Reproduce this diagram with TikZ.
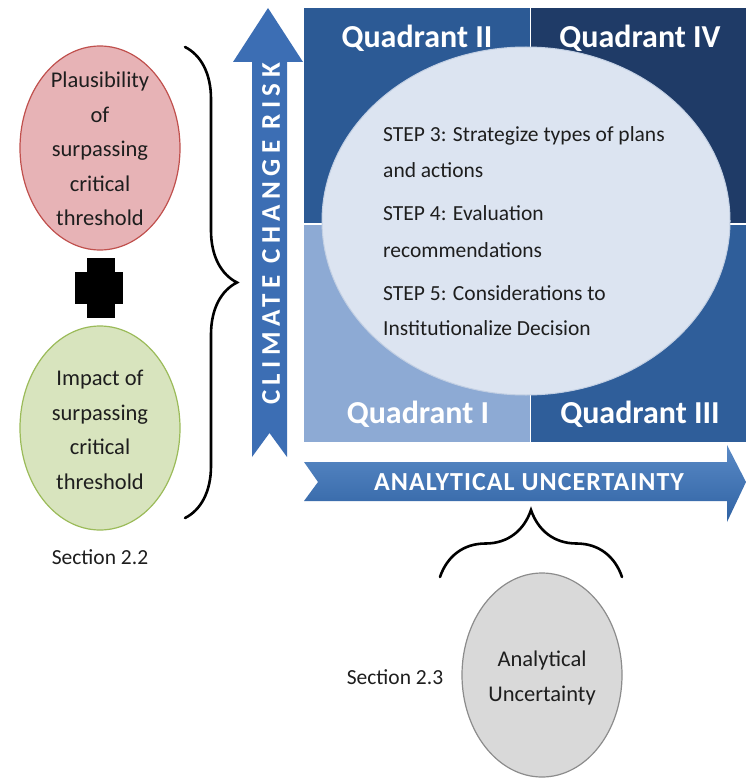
\documentclass[tikz,border=0pt]{standalone}
\usepackage{fontspec}
\setmainfont{Carlito}
\newfontfamily\vspacedfont[LetterSpace=20]{Carlito}
\newfontfamily\hspacedfont[LetterSpace=4]{Carlito}
\usetikzlibrary{decorations.pathreplacing,shapes.geometric}
\definecolor{qtwo}{HTML}{2C5A95}
\definecolor{qfour}{HTML}{1F3B67}
\definecolor{qone}{HTML}{8DAAD4}
\definecolor{qthree}{HTML}{2F5E9A}
\definecolor{ellfill}{HTML}{DCE4F1}
\definecolor{arrowblue}{HTML}{3C6EB4}
\definecolor{arrowlight}{HTML}{5A8AC6}
\definecolor{arrowdark}{HTML}{2F62A3}
\definecolor{redfill}{HTML}{E7B3B6}
\definecolor{redline}{HTML}{C0504D}
\definecolor{greenfill}{HTML}{D8E4BE}
\definecolor{greenline}{HTML}{9BBB59}
\definecolor{grayfill}{HTML}{D9D9D9}
\definecolor{grayline}{HTML}{8C8C8C}
\definecolor{textgray}{HTML}{1E1E1E}
\tikzset{
  bubble/.style={ellipse, minimum width=160pt, minimum height=204pt, line width=1.2pt, inner sep=0pt},
  bubbletext/.style={align=center, font=\fontsize{22.5}{34.5}\selectfont, text=textgray},
  quadlabel/.style={text=white, font=\bfseries\fontsize{32}{35}\selectfont},
  steptext/.style={anchor=base west, text=textgray, font=\fontsize{21.5}{24}\selectfont, inner sep=0pt},
  seclabel/.style={text=textgray, font=\fontsize{21.5}{24}\selectfont},
  varrowtext/.style={text=white, font=\vspacedfont\bfseries\fontsize{27}{29}\selectfont},
  harrowtext/.style={text=white, font=\hspacedfont\bfseries\fontsize{26}{28}\selectfont},
  bracestyle/.style={decorate, line width=2.6pt, line cap=round}
}
\begin{document}
\begin{tikzpicture}[x=1pt,y=-1pt]
\useasboundingbox (0,0) rectangle (746,778);
\clip (0,0) rectangle (746,778);
\fill[white] (0,0) rectangle (746,778);

% quadrants
\fill[qtwo] (304,8) rectangle (529.5,223);
\fill[qfour] (531,8) rectangle (746,223);
\fill[qone] (304,225) rectangle (529.5,442);
\fill[qthree] (531,225) rectangle (746,442);

% central ellipse
\node[ellipse, fill=ellfill, draw=ellfill!85!qtwo, line width=1pt, minimum width=408pt, minimum height=348pt] (center) at (526,221) {};

\node[quadlabel] (q2) at (417,38) {Quadrant II};
\node[quadlabel] (q4) at (640,38) {Quadrant IV};
\node[quadlabel] (q1) at (418,414) {Quadrant I};
\node[quadlabel] (q3) at (640,414) {Quadrant III};

\node[steptext] (s3a) at (383,142) {STEP 3: Strategize types of plans};
\node[steptext] (s3b) at (383,177) {and actions};
\node[steptext] (s4a) at (383,220) {STEP 4: Evaluation};
\node[steptext] (s4b) at (383,257) {recommendations};
\node[steptext] (s5a) at (383,300) {STEP 5: Considerations to};
\node[steptext] (s5b) at (383,335) {Institutionalize Decision};

% vertical arrow
\fill[arrowblue] (252,457) -- (269.5,433) -- (287,457) -- (287,62) -- (303,62) -- (268,8) -- (233,62) -- (252,62) -- cycle;
\node[varrowtext, rotate=90] (risk) at (271,234) {CLIMATE CHANGE RISK};

% horizontal arrow
\shade[top color=arrowlight, bottom color=arrowdark] (304,462) -- (727,462) -- (727,445) -- (746,482) -- (727,522) -- (727,501) -- (304,501) -- (318,482) -- cycle;
\node[harrowtext] (unc) at (529,482) {ANALYTICAL UNCERTAINTY};

% left bubbles
\node[bubble, fill=redfill, draw=redline] (plaus) at (100,148) {};
\node[bubbletext] (plaustext) at (100,149) {Plausibility\\of\\surpassing\\critical\\threshold};
\node[bubble, fill=greenfill, draw=greenline] (impact) at (100,428) {};
\node[bubbletext] (impacttext) at (100,430) {Impact of\\surpassing\\critical\\threshold};
\node[seclabel] (sec22) at (100,557) {Section 2.2};

% plus sign
\fill[black] (87,258) rectangle (115,318);
\fill[black] (75,272) rectangle (123,304);

% left brace
\draw[bracestyle, decoration={brace, amplitude=52pt}] (185,47) -- (185,518);

% bottom brace
\draw[bracestyle, decoration={brace, amplitude=67pt}] (440,577) -- (622,577);

% bottom bubble
\node[bubble, fill=grayfill, draw=grayline] (anal) at (542,675) {};
\node[bubbletext, font=\fontsize{22.5}{35}\selectfont] (analtext) at (542,678) {Analytical\\Uncertainty};
\node[seclabel] (sec23) at (395,677) {Section 2.3};
\end{tikzpicture}
\end{document}
